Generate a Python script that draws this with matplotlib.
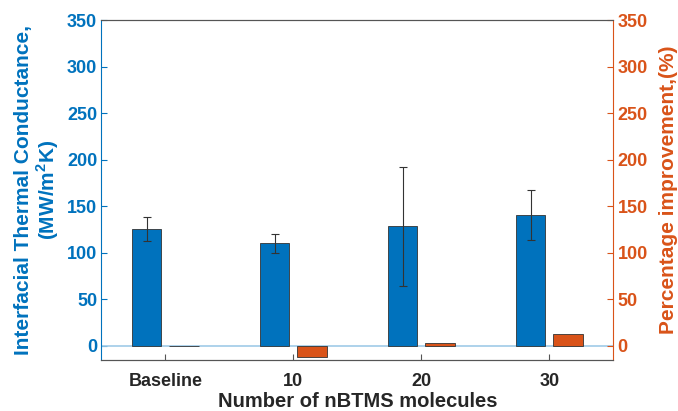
import numpy as np
import matplotlib
matplotlib.use("Agg")
import matplotlib.pyplot as plt

plt.rcParams['font.family'] = ['Liberation Sans', 'DejaVu Sans']
plt.rcParams['font.weight'] = 'bold'
plt.rcParams['mathtext.fontset'] = 'custom'
plt.rcParams['mathtext.rm'] = 'Liberation Sans:bold'
plt.rcParams['mathtext.bf'] = 'Liberation Sans:bold'

# data
categories = ['Baseline', '10', '20', '30']
conductance = [125, 110, 128, 140]
conductance_err = [13, 10, 64, 27]
improvement = [0, -12, 2.4, 12]

blue = '#0072BD'
orange = '#D95319'
dark = '#262626'

fig = plt.figure(figsize=(6.78, 4.11), dpi=100)
ax = fig.add_axes([0.1494, 0.1253, 0.7552, 0.826])
ax2 = ax.twinx()

x = np.arange(1, len(categories) + 1)
w = 0.23
off = 0.145

ax.bar(x - off, conductance, w, color=blue, edgecolor='#333333', linewidth=0.6, zorder=3)
ax.errorbar(x - off, conductance, yerr=conductance_err, fmt='none', ecolor='#333333',
            elinewidth=0.8, capsize=3, capthick=0.8, zorder=4)
ax2.bar(x + off, improvement, w, color=orange, edgecolor='#333333', linewidth=0.6, zorder=3)
ax.axhline(0, color='#9fcbe8', lw=1.2, zorder=2)

for a in (ax, ax2):
    a.set_ylim(-15, 350)
    a.set_yticks(np.arange(0, 351, 50))
    a.set_xlim(0.5, 4.5)
    a.tick_params(direction='in', length=4, labelsize=13, pad=3)
    a.spines['top'].set_color('#555555')
    a.spines['bottom'].set_color('#555555')

ax.set_xticks(x)
ax.set_xticklabels(categories, fontsize=13, fontweight='bold', color=dark)
ax.tick_params(axis='x', colors='#555555', labelcolor=dark, pad=10)
ax.tick_params(axis='y', colors=blue, labelcolor=blue)
ax.spines['left'].set_color(blue)
ax.spines['right'].set_visible(False)
ax2.spines['left'].set_visible(False)
ax2.spines['right'].set_color(orange)
ax2.tick_params(axis='y', colors=orange, labelcolor=orange)
for lbl in ax.get_yticklabels() + ax2.get_yticklabels():
    lbl.set_fontweight('bold')

ax.set_xlabel('Number of nBTMS molecules', fontsize=14.5, fontweight='bold', color=dark, labelpad=1)
ax.set_ylabel('Interfacial Thermal Conductance,\n(MW/m$^{2}$K)', fontsize=15,
              fontweight='bold', color=blue, labelpad=4, linespacing=1.1)
ax2.set_ylabel('Percentage improvement,(%)', fontsize=15, fontweight='bold',
               color=orange, labelpad=8)

fig.savefig('out.png', dpi=100)
